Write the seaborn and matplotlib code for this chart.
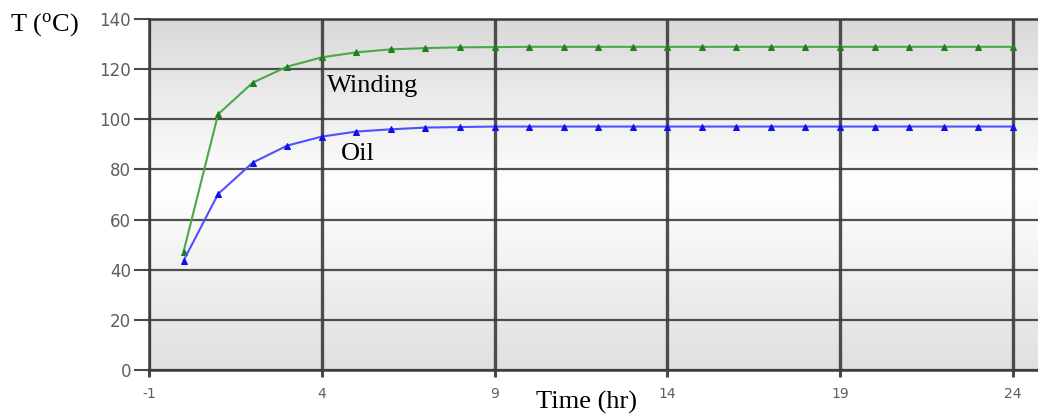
import numpy as np
import pandas as pd
import matplotlib
matplotlib.use("Agg")
import matplotlib.pyplot as plt
from matplotlib.colors import LinearSegmentedColormap
import seaborn as sns

hours = list(range(0, 25))
winding = [47.2, 102.0, 114.6, 121.0, 124.7, 126.7, 127.9, 128.4, 128.7, 128.8,
           128.9, 128.9, 128.9, 128.9, 128.9, 128.9, 128.9, 128.9, 128.9, 128.9,
           128.9, 128.9, 128.9, 128.9, 128.9]
oil = [43.6, 70.2, 82.7, 89.5, 93.1, 95.1, 96.0, 96.7, 96.9, 97.1,
       97.1, 97.1, 97.1, 97.1, 97.1, 97.1, 97.1, 97.1, 97.1, 97.1,
       97.1, 97.1, 97.1, 97.1, 97.1]
x_ticks = [-1, 4, 9, 14, 19, 24]
y_ticks = [0, 20, 40, 60, 80, 100, 120, 140]

sns.set_theme(style="white")
plt.rcParams['font.family'] = ['DejaVu Sans']
plt.rcParams['axes.unicode_minus'] = False

fig = plt.figure(figsize=(10.38, 4.19), dpi=100)
ax = fig.add_axes([149/1038, 1-370/419, 1-149/1038, (370-19)/419])

# background vertical gradient
cmap = LinearSegmentedColormap.from_list(
    "bg", [(0.0, "#e0e0e0"), (0.52, "#ffffff"), (1.0, "#d9d9d9")])
grad = np.linspace(1, 0, 256).reshape(-1, 1)
ax.imshow(grad, extent=[0, 1, 0, 1], transform=ax.transAxes, aspect='auto',
          cmap=cmap, vmin=0, vmax=1, zorder=0, interpolation='bicubic')
ax.set_facecolor('none')

df = pd.DataFrame({"hours": hours, "Winding": winding, "Oil": oil})
sns.lineplot(data=df, x="hours", y="Winding", ax=ax, color="#4aa84a", lw=1.5,
             marker="^", markersize=5, markerfacecolor="#1f7f1f",
             markeredgecolor="#1f7f1f", zorder=5)
sns.lineplot(data=df, x="hours", y="Oil", ax=ax, color="#5050ff", lw=1.5,
             marker="^", markersize=5, markerfacecolor="#1010e8",
             markeredgecolor="#1010e8", zorder=5)

ax.set_xlim(-1, 24.73)
ax.set_ylim(0, 140)
ax.set_xticks(x_ticks)
ax.set_yticks(y_ticks)
ax.set_xlabel("")
ax.set_ylabel("")

ax.set_axisbelow(True)
ax.grid(False)
ax.xaxis.grid(True, color="#3c3c3c", lw=2.4, alpha=0.9)
ax.yaxis.grid(True, color="#3c3c3c", lw=1.6, alpha=0.9)

for s in ["left", "top", "bottom"]:
    ax.spines[s].set_visible(True)
    ax.spines[s].set_color("#3c3c3c")
    ax.spines[s].set_linewidth(1.8)
ax.spines["right"].set_visible(False)

ax.tick_params(axis='y', length=11, width=1.5, color="#4a4a4a",
               labelsize=12, labelcolor="#5e5e5e", pad=2, left=True)
ax.tick_params(axis='x', length=5, width=2.2, color="#4a4a4a",
               labelsize=10, labelcolor="#5e5e5e", pad=7, bottom=True)

serif = ['Liberation Serif', 'DejaVu Serif']
ax.text(4.15, 110.9, "Winding", family=serif, fontsize=19, color="black",
        ha='left', va='baseline', zorder=6)
ax.text(4.55, 83.8, "Oil", family=serif, fontsize=19, color="black",
        ha='left', va='baseline', zorder=6)

plt.rcParams['mathtext.fontset'] = 'custom'
plt.rcParams['mathtext.rm'] = 'Liberation Serif'
fig.text(10/1038, 1-31/419, r"T ($\mathregular{^o}$C)", family=serif,
         fontsize=19, color="black", ha='left', va='baseline')
fig.text(587/1038, 1-409/419, "Time (hr)", family=serif, fontsize=19,
         color="black", ha='center', va='baseline')

fig.savefig("out.png", dpi=100)
